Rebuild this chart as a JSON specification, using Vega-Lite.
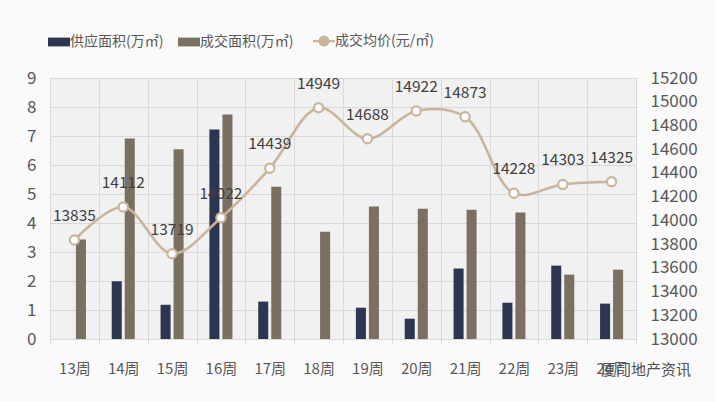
{
  "$schema": "https://vega.github.io/schema/vega-lite/v6.json",
  "width": 586,
  "height": 261,
  "autosize": {"type": "none"},
  "padding": {"left": 50, "top": 78, "right": 79, "bottom": 63},
  "background": "#FAFAFA",
  "config": {
    "font": "Noto Sans CJK SC",
    "view": {"fill": "#F1F1F1", "stroke": "#D9D9D9"}
  },
  "title": {
    "text": "厦门地产资讯",
    "orient": "bottom",
    "anchor": "end",
    "frame": "group",
    "offset": -13,
    "dx": 55,
    "fontSize": 15,
    "fontWeight": "normal",
    "color": "#505050"
  },
  "datasets": {
    "bars": [
      {"week": "13周", "series": "成交面积(万㎡)", "value": 3.43},
      {"week": "14周", "series": "供应面积(万㎡)", "value": 1.99},
      {"week": "14周", "series": "成交面积(万㎡)", "value": 6.91},
      {"week": "15周", "series": "供应面积(万㎡)", "value": 1.18},
      {"week": "15周", "series": "成交面积(万㎡)", "value": 6.54},
      {"week": "16周", "series": "供应面积(万㎡)", "value": 7.22},
      {"week": "16周", "series": "成交面积(万㎡)", "value": 7.74},
      {"week": "17周", "series": "供应面积(万㎡)", "value": 1.29},
      {"week": "17周", "series": "成交面积(万㎡)", "value": 5.25},
      {"week": "18周", "series": "成交面积(万㎡)", "value": 3.70},
      {"week": "19周", "series": "供应面积(万㎡)", "value": 1.08},
      {"week": "19周", "series": "成交面积(万㎡)", "value": 4.57},
      {"week": "20周", "series": "供应面积(万㎡)", "value": 0.70},
      {"week": "20周", "series": "成交面积(万㎡)", "value": 4.49},
      {"week": "21周", "series": "供应面积(万㎡)", "value": 2.43},
      {"week": "21周", "series": "成交面积(万㎡)", "value": 4.46},
      {"week": "22周", "series": "供应面积(万㎡)", "value": 1.25},
      {"week": "22周", "series": "成交面积(万㎡)", "value": 4.36},
      {"week": "23周", "series": "供应面积(万㎡)", "value": 2.53},
      {"week": "23周", "series": "成交面积(万㎡)", "value": 2.22},
      {"week": "24周", "series": "供应面积(万㎡)", "value": 1.22},
      {"week": "24周", "series": "成交面积(万㎡)", "value": 2.39}
    ],
    "price": [
      {"week": "13周", "series": "成交均价(元/㎡)", "price": 13835},
      {"week": "14周", "series": "成交均价(元/㎡)", "price": 14112},
      {"week": "15周", "series": "成交均价(元/㎡)", "price": 13719},
      {"week": "16周", "series": "成交均价(元/㎡)", "price": 14022},
      {"week": "17周", "series": "成交均价(元/㎡)", "price": 14439},
      {"week": "18周", "series": "成交均价(元/㎡)", "price": 14949},
      {"week": "19周", "series": "成交均价(元/㎡)", "price": 14688},
      {"week": "20周", "series": "成交均价(元/㎡)", "price": 14922},
      {"week": "21周", "series": "成交均价(元/㎡)", "price": 14873},
      {"week": "22周", "series": "成交均价(元/㎡)", "price": 14228},
      {"week": "23周", "series": "成交均价(元/㎡)", "price": 14303},
      {"week": "24周", "series": "成交均价(元/㎡)", "price": 14325}
    ]
  },
  "layer": [
    {
      "data": {"name": "bars"},
      "mark": {"type": "bar"},
      "encoding": {
        "x": {
          "field": "week",
          "type": "nominal",
          "sort": ["13周","14周","15周","16周","17周","18周","19周","20周","21周","22周","23周","24周"],
          "scale": {"domain": ["13周","14周","15周","16周","17周","18周","19周","20周","21周","22周","23周","24周"], "paddingInner": 0, "paddingOuter": 0},
          "axis": {
            "title": null,
            "labelAngle": 0,
            "labelFontSize": 15,
            "labelColor": "#595959",
            "labelPadding": 17,
            "grid": true,
            "gridColor": "#D9D9D9",
            "tickBand": "extent",
            "domain": false,
            "ticks": true,
            "tickColor": "#D9D9D9",
            "tickSize": 5
          }
        },
        "xOffset": {
          "field": "series",
          "type": "nominal",
          "scale": {"domain": ["供应面积(万㎡)", "成交面积(万㎡)"], "paddingInner": 0.23, "paddingOuter": 0.99}
        },
        "y": {
          "field": "value",
          "type": "quantitative",
          "scale": {"domain": [0, 9]},
          "axis": {
            "title": null,
            "values": [0,1,2,3,4,5,6,7,8,9],
            "labelFontSize": 17,
            "labelColor": "#595959",
            "labelPadding": 14,
            "grid": true,
            "gridColor": "#D9D9D9",
            "domain": false,
            "ticks": false
          }
        },
        "color": {
          "field": "series",
          "type": "nominal",
          "scale": {
            "domain": ["供应面积(万㎡)", "成交面积(万㎡)", "成交均价(元/㎡)"],
            "range": ["#2C3650", "#7A6F61", "#C8B59C"]
          },
          "legend": {
            "title": null,
            "orient": "none",
            "legendX": 2,
            "legendY": -44,
            "direction": "horizontal",
            "labelFontSize": 14,
            "labelColor": "#595959",
            "symbolSize": 484,
            "columnPadding": 14,
            "labelOffset": 4,
            "encode": {
              "symbols": {
                "update": {
                  "shape": {"signal": "datum.value === '成交均价(元/㎡)' ? 'M-1,0L-0.4,0M0.4,0L1,0M-0.4,0A0.4,0.4,0,1,1,0.4,0A0.4,0.4,0,1,1,-0.4,0Z' : 'M-1,-0.4L1,-0.4L1,0.4L-1,0.4Z'"},
                  "fill": {"signal": "datum.value === '成交均价(元/㎡)' ? '#ffffff' : (datum.value === '供应面积(万㎡)' ? '#2C3650' : '#7A6F61')"},
                  "stroke": {"signal": "datum.value === '成交均价(元/㎡)' ? '#C8B59C' : 'transparent'"},
                  "strokeWidth": {"signal": "datum.value === '成交均价(元/㎡)' ? 2.2 : 0"},
                  "opacity": {"value": 1},
                  "fillOpacity": {"value": 1},
                  "strokeOpacity": {"value": 1}
                }
              }
            }
          }
        }
      }
    },
    {
      "data": {"name": "price"},
      "encoding": {
        "x": {"field": "week", "type": "nominal", "sort": ["13周","14周","15周","16周","17周","18周","19周","20周","21周","22周","23周","24周"]},
        "y": {
          "field": "price",
          "type": "quantitative",
          "scale": {"domain": [13000, 15200]},
          "axis": {
            "orient": "right",
            "title": null,
            "values": [13000,13200,13400,13600,13800,14000,14200,14400,14600,14800,15000,15200],
            "format": "d",
            "labelFontSize": 17,
            "labelColor": "#595959",
            "labelPadding": 14,
            "grid": false,
            "domain": false,
            "ticks": false
          }
        }
      },
      "layer": [
        {
          "mark": {"type": "line", "interpolate": "catmull-rom", "strokeWidth": 2.6},
          "encoding": {"color": {"field": "series", "type": "nominal"}}
        },
        {
          "mark": {"type": "point", "filled": true, "fill": "#ffffff", "stroke": "#C8B59C", "strokeWidth": 2.2, "size": 85, "opacity": 1}
        },
        {
          "mark": {"type": "text", "dy": -24, "fontSize": 15.5, "color": "#404040"},
          "encoding": {"text": {"field": "price", "type": "quantitative", "format": "d"}}
        }
      ]
    }
  ],
  "resolve": {"scale": {"y": "independent"}}
}
